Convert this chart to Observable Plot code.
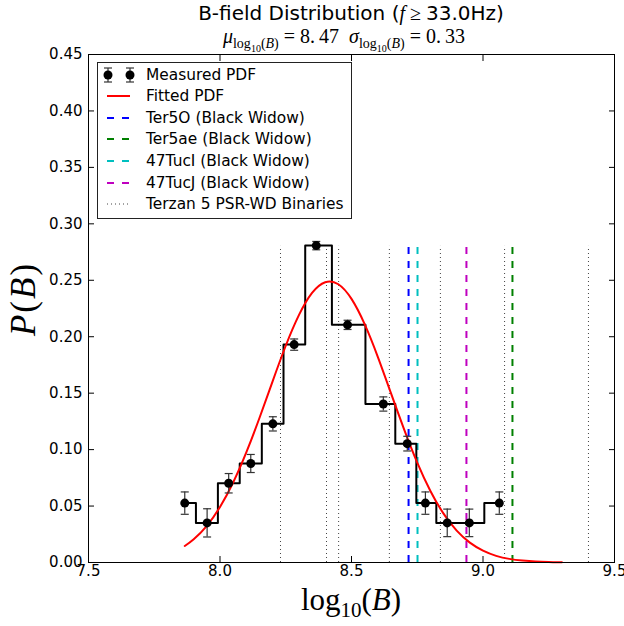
<!DOCTYPE html>
<html><head><meta charset="utf-8">
<script src="https://cdn.jsdelivr.net/npm/d3@7"></script>
<script src="https://cdn.jsdelivr.net/npm/@observablehq/plot@0.6"></script>
<style>
body{margin:0;background:#fff;}
#fig{position:relative;width:624px;height:626px;font-family:"DejaVu Sans",sans-serif;color:#000;overflow:hidden;}
#plot{position:absolute;left:0;top:40px;}
.abs{position:absolute;white-space:nowrap;}
.mi{font-family:"Liberation Serif",serif;font-style:italic;}
.mr{font-family:"Liberation Serif",serif;font-style:normal;}
#legend{position:absolute;left:97px;top:62px;width:255px;height:157px;border:1px solid #222;box-sizing:border-box;background:#fff;}
.lrow{position:absolute;left:0;height:22px;width:250px;}
.lrow svg{position:absolute;left:0;top:0;}
.lrow span{position:absolute;left:48px;top:0;line-height:22px;font-size:15.4px;}
</style></head><body>
<div id="fig">
  <div id="plot"></div>
  <div class="abs" id="title" style="left:101px;top:0;width:500px;text-align:center;font-size:20px;line-height:26px;">B-field Distribution (<span class="mi">f</span><span class="mr"> ≥ </span>33.0Hz)</div>
  <div class="abs" id="subtitle" style="left:144px;top:25px;width:400px;text-align:center;font-family:'Liberation Serif',serif;font-size:20px;line-height:22px;"><span class="mi">μ</span><sub style="font-size:14px">log<sub style="font-size:10px">10</sub>(<span class="mi">B</span>)</sub>&nbsp;=&nbsp;8.&thinsp;47&nbsp;&nbsp;<span class="mi">σ</span><sub style="font-size:14px">log<sub style="font-size:10px">10</sub>(<span class="mi">B</span>)</sub>&nbsp;=&nbsp;0.&thinsp;33</div>
  <div class="abs" id="xlabel" style="left:251px;top:582px;width:200px;text-align:center;font-family:'Liberation Serif',serif;font-size:31px;line-height:36px;">log<sub style="font-size:21px">10</sub>(<span class="mi">B</span>)</div>
  <div class="abs" id="ylabel" style="left:-36px;top:279px;width:120px;height:40px;text-align:center;font-family:'Liberation Serif',serif;font-size:35px;line-height:40px;letter-spacing:2px;transform:rotate(-90deg);transform-origin:60px 20px;"><span class="mi">P</span>(<span class="mi">B</span>)</div>
  <div id="legend"></div>
</div>
<script>
// ---- data ----
const binCenters = [7.866, 7.951, 8.033, 8.117, 8.201, 8.282, 8.366, 8.485, 8.621, 8.712, 8.781, 8.864, 8.948, 9.062];
const measuredPdf = [0.0526, 0.0351, 0.0702, 0.0877, 0.1228, 0.1930, 0.2807, 0.2105, 0.1404, 0.1053, 0.0526, 0.0351, 0.0351, 0.0526];
const pdfErrors = [0.0099, 0.0125, 0.0086, 0.0080, 0.0063, 0.0050, 0.0037, 0.0041, 0.0063, 0.0065, 0.0099, 0.0122, 0.0122, 0.0099];

const fitLogB = [7.866, 7.90, 7.95, 8.00, 8.05, 8.10, 8.15, 8.20, 8.25, 8.30, 8.35, 8.40, 8.45, 8.50, 8.55, 8.60, 8.65, 8.70, 8.75, 8.80, 8.85, 8.90, 8.95, 9.00, 9.05, 9.10, 9.15, 9.20, 9.25, 9.30];
const fitPdf = [0.0146, 0.0206, 0.0325, 0.0492, 0.0709, 0.0975, 0.1280, 0.1605, 0.1920, 0.2191, 0.2388, 0.2483, 0.2465, 0.2335, 0.2111, 0.1822, 0.1500, 0.1180, 0.0885, 0.0634, 0.0433, 0.0282, 0.0176, 0.0105, 0.0059, 0.0032, 0.0017, 0.0008, 0.0004, 0.0002];

const blackWidowNames = ["Ter5O (Black Widow)", "Ter5ae (Black Widow)", "47TucI (Black Widow)", "47TucJ (Black Widow)"];
const blackWidowLogB = [8.717, 9.112, 8.751, 8.937];
const wdBinaryLogB = [8.230, 8.405, 8.451, 8.644, 8.838, 9.082, 9.401];
const refLineTop = 0.28;

const xTicks = [7.5, 8.0, 8.5, 9.0, 9.5];
const yTicks = [0.00, 0.05, 0.10, 0.15, 0.20, 0.25, 0.30, 0.35, 0.40, 0.45];

const legendLabels = ["Measured PDF", "Fitted PDF", ...blackWidowNames, "Terzan 5 PSR-WD Binaries"];

// ---- styles ----
const bwColors = ["#0000ff", "#008000", "#00bfbf", "#bf00bf"];
const errColor = "#333";

// ---- tables ----
const points = binCenters.map((x, i) => ({x, y: measuredPdf[i], e: pdfErrors[i]}));
const fit = fitLogB.map((x, i) => ({x, y: fitPdf[i]}));

const capSymbol = {draw(context, size) { const w = Math.sqrt(size / Math.PI); context.moveTo(-w, 0); context.lineTo(w, 0); }};

const plot = Plot.plot({
  width: 624, height: 586,
  marginTop: 14, marginBottom: 64, marginLeft: 88, marginRight: 10,
  style: {fontFamily: "DejaVu Sans, sans-serif", fontSize: "15px", color: "#000", background: "transparent"},
  x: {domain: [7.5, 9.5]},
  y: {domain: [0, 0.45]},
  marks: [
    Plot.ruleX(wdBinaryLogB, {x: d => d, y1: 0, y2: refLineTop, stroke: "#444", strokeWidth: 1, strokeDasharray: "1,3"}),
    ...blackWidowLogB.map((v, i) => Plot.ruleX([v], {x: d => d, y1: 0, y2: refLineTop, stroke: bwColors[i], strokeWidth: 2, strokeDasharray: "7,7"})),
    Plot.line(points, {x: "x", y: "y", curve: "step", stroke: "#000", strokeWidth: 2}),
    Plot.line(fit, {x: "x", y: "y", curve: "natural", stroke: "#ff0000", strokeWidth: 2}),
    Plot.ruleX(points, {x: "x", y1: d => d.y - d.e, y2: d => d.y + d.e, stroke: errColor, strokeWidth: 1.2}),
    Plot.dot(points, {x: "x", y: d => d.y + d.e, symbol: capSymbol, r: 4, stroke: errColor, strokeWidth: 1.2}),
    Plot.dot(points, {x: "x", y: d => d.y - d.e, symbol: capSymbol, r: 4, stroke: errColor, strokeWidth: 1.2}),
    Plot.dot(points, {x: "x", y: "y", r: 4.5, fill: "#000", stroke: "none"}),
    Plot.frame({stroke: "#000", strokeWidth: 1}),
    Plot.axisX(xTicks, {anchor: "bottom", tickSize: -6, tickPadding: 9, tickFormat: d3.format(".1f"), label: null, fontSize: 15}),
    Plot.axisX(xTicks, {anchor: "top", tickSize: -6, tickFormat: () => "", label: null}),
    Plot.axisY(yTicks, {anchor: "left", tickSize: -6, tickPadding: 12, tickFormat: d3.format(".2f"), label: null, fontSize: 15}),
    Plot.axisY(yTicks, {anchor: "right", tickSize: -6, tickFormat: () => "", label: null})
  ]
});
document.getElementById("plot").appendChild(plot);

// ---- legend ----
const legend = d3.select("#legend");
const rowTops = [1, 22, 44, 65, 87, 109, 130];
legendLabels.forEach((label, i) => {
  const row = legend.append("div").attr("class", "lrow").style("top", rowTops[i] + "px");
  const svg = row.append("svg").attr("width", 40).attr("height", 22);
  if (i === 0) {
    [10, 32].forEach(cx => {
      svg.append("line").attr("x1", cx).attr("x2", cx).attr("y1", 4).attr("y2", 18).attr("stroke", errColor).attr("stroke-width", 1.2);
      svg.append("line").attr("x1", cx - 4).attr("x2", cx + 4).attr("y1", 4).attr("y2", 4).attr("stroke", errColor).attr("stroke-width", 1.2);
      svg.append("line").attr("x1", cx - 4).attr("x2", cx + 4).attr("y1", 18).attr("y2", 18).attr("stroke", errColor).attr("stroke-width", 1.2);
      svg.append("circle").attr("cx", cx).attr("cy", 11).attr("r", 4.5).attr("fill", "#000");
    });
  } else if (i === 1) {
    svg.append("line").attr("x1", 9).attr("x2", 32).attr("y1", 11).attr("y2", 11).attr("stroke", "#ff0000").attr("stroke-width", 2);
  } else if (i < 6) {
    svg.append("line").attr("x1", 9).attr("x2", 32).attr("y1", 11).attr("y2", 11).attr("stroke", bwColors[i - 2]).attr("stroke-width", 2).attr("stroke-dasharray", "7,8");
  } else {
    svg.append("line").attr("x1", 9).attr("x2", 32).attr("y1", 11).attr("y2", 11).attr("stroke", "#444").attr("stroke-width", 1).attr("stroke-dasharray", "1,3");
  }
  row.append("span").text(label);
});
</script>
</body></html>
